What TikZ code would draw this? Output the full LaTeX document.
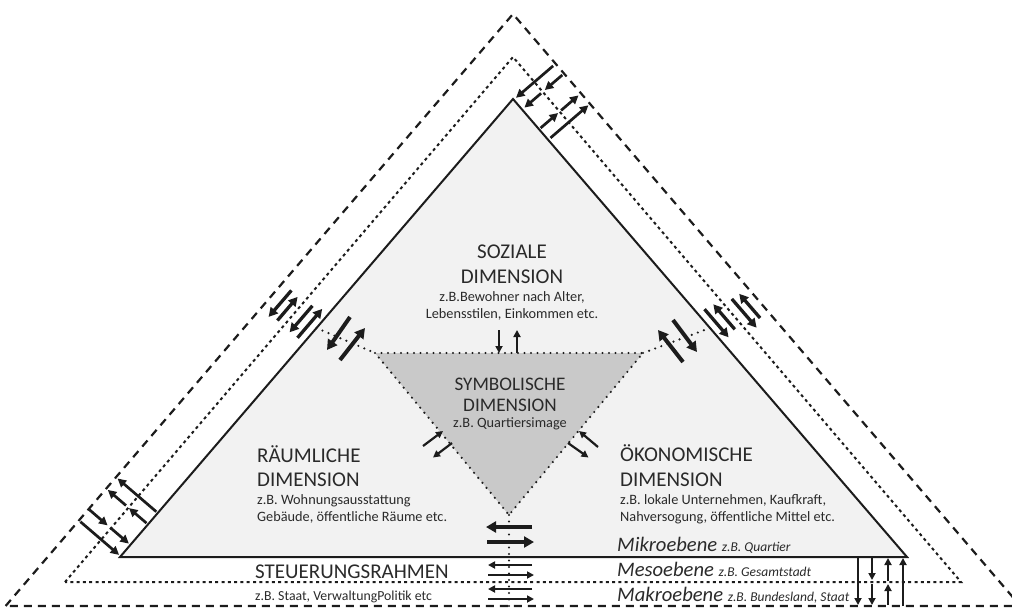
\documentclass[tikz,border=0pt]{standalone}
\usepackage{fontspec}
\setmainfont{Carlito}
\usetikzlibrary{arrows.meta,calc}
\definecolor{ink}{HTML}{1C1C1C}
\definecolor{txt}{HTML}{2A2A2A}
\definecolor{microfill}{HTML}{F2F2F2}
\definecolor{symbfill}{HTML}{C9C9C9}

\begin{document}
\begin{tikzpicture}[x=1pt,y=-1pt,
  solidedge/.style={draw=ink,line width=2pt,line join=miter},
  mesoedge/.style={draw=ink,line width=2pt,dash pattern=on 3pt off 3.3pt},
  makroedge/.style={draw=ink,line width=2.2pt,dash pattern=on 8pt off 6pt},
  dotline/.style={draw=ink,line width=2.4pt,line cap=round,dash pattern=on 0pt off 6.5pt},
  flowbig/.style={draw=ink,line width=4pt,-{Triangle[length=10pt,width=11pt]}},
  flowmid/.style={draw=ink,line width=3.3pt,-{Triangle[length=9pt,width=9.5pt]}},
  flow/.style={draw=ink,line width=2.7pt,-{Triangle[length=8.5pt,width=8.5pt]}},
  flowsmall/.style={draw=ink,line width=2.2pt,-{Triangle[length=7pt,width=7pt]}},
  title/.style={text=txt,font=\fontsize{21}{24}\selectfont,inner sep=0pt},
  symtitle/.style={text=txt,font=\fontsize{19.2}{22}\selectfont,inner sep=0pt},
  note/.style={text=txt,font=\fontsize{14.3}{17}\selectfont,inner sep=0pt},
  level/.style={text=txt,inner sep=0pt,anchor=base west}
]
\useasboundingbox (0,0) rectangle (1012,608);
\clip (0,0) rectangle (1012,608);

% vertices of the three nested levels
\coordinate (mL) at (120,557);
\coordinate (mA) at (513,99);
\coordinate (mR) at (907,557);
\coordinate (eL) at (65,582);
\coordinate (eA) at (513,57);
\coordinate (eR) at (961,582);
\coordinate (kL) at (5.6,606);
\coordinate (kA) at (513,14);
\coordinate (kR) at (1020.4,606);
% symbolic dimension (inverted triangle)
\coordinate (sL) at (375,353);
\coordinate (sR) at (643,353);
\coordinate (sB) at (509,515);
\coordinate (sD) at (509,612);

% micro level: filled triangle
\fill[microfill] (mL) -- (mA) -- (mR) -- cycle;
\fill[symbfill] (sL) -- (sR) -- (sB) -- cycle;

% level boundaries
\draw[makroedge] (kL) -- (kA) -- (kR) -- cycle;
\draw[mesoedge] (eL) -- (eA) -- (eR) -- cycle;
\draw[solidedge] (mL) -- (mA) -- (mR) -- cycle;

% dotted links to the symbolic dimension
\draw[dotline] (sL) -- (sR) -- (sB) -- cycle;
\draw[dotline] ($(mL)!0.5!(mA)$) -- (sL);
\draw[dotline] ($(mR)!0.5!(mA)$) -- (sR);
\draw[dotline] (sB) -- (sD);

% exchange arrows at the apex
\draw[flow] (553.1,65.9) -- (516,97.8);
\draw[flow] (562.3,75) -- (544.8,90);
\draw[flow] (541.1,93.3) -- (524.4,107.6);
\draw[flow] (540.6,128) -- (558.1,113);
\draw[flow] (561.1,110.4) -- (578.5,95.4);
\draw[flow] (550.5,137.9) -- (588.4,105.3);

% exchange arrows on the left side
\draw[flowmid] (291.4,290.4) -- (268.6,316.9);
\draw[flowmid] (277.4,320.5) -- (297.6,296.9);
\draw[flowmid] (312.4,305.8) -- (289.6,332.3);
\draw[flowmid] (297.5,337.8) -- (322.2,308.9);
\draw[flowbig] (350,317) -- (327,350);
\draw[flowbig] (340,360) -- (365,328);

% exchange arrows on the right side
\draw[flowmid] (704.5,309.2) -- (728.6,337.3);
\draw[flowmid] (734.8,329.3) -- (713.3,304.3);
\draw[flowmid] (731.8,298.9) -- (756.6,327.7);
\draw[flowmid] (760.1,318) -- (739.2,293.8);
\draw[flowbig] (673,320) -- (697,352);
\draw[flowbig] (683,362) -- (658,330);

% exchange arrows at the lower left corner
\draw[flow] (80.4,521.7) -- (119.1,554.9);
\draw[flow] (89.4,509.7) -- (107.6,525.4);
\draw[flow] (110.7,528) -- (128.9,543.6);
\draw[flow] (146.5,523.1) -- (129,508.1);
\draw[flow] (126,505.5) -- (107.8,489.9);
\draw[flow] (156.3,511.7) -- (117.6,478.5);

% exchange arrows at the lower right corner
\draw[flowsmall] (858,557) -- (858,605);
\draw[flowsmall] (872,557) -- (872,580);
\draw[flowsmall] (872,584) -- (872,605);
\draw[flowsmall] (888,581) -- (888,558);
\draw[flowsmall] (888,605) -- (888,584);
\draw[flowsmall] (903,606) -- (903,558);

% exchange arrows below the symbolic dimension
\draw[flowbig] (532,527) -- (486,527);
\draw[flowbig] (487,542) -- (534,542);
\draw[flowsmall] (532,565) -- (488,565);
\draw[flowsmall] (488,575) -- (534,575);
\draw[flowsmall] (532,589) -- (488,589);
\draw[flowsmall] (488,599) -- (534,599);

% arrows at the symbolic dimension
\draw[flowsmall] (499,330) -- (499,353);
\draw[flowsmall] (517,353) -- (517,330);
\draw[flowsmall] (423,446) -- (443,431);
\draw[flowsmall] (452,443) -- (433,457.5);
\draw[flowsmall] (598,447) -- (579,431);
\draw[flowsmall] (568,443) -- (588.5,457.5);

% social dimension
\node[title,anchor=base] (soz1) at (512,258) {SOZIALE};
\node[title,anchor=base] (soz2) at (512,283) {DIMENSION};
\node[note,anchor=base] (soz3) at (512,301) {z.B.Bewohner nach Alter,};
\node[note,anchor=base] (soz4) at (512,318) {Lebensstilen, Einkommen etc.};

% symbolic dimension
\node[symtitle,anchor=base] (sym1) at (510,390) {SYMBOLISCHE};
\node[symtitle,anchor=base] (sym2) at (510,411.5) {DIMENSION};
\node[note,anchor=base] (sym3) at (510,427) {z.B. Quartiersimage};

% spatial dimension
\node[title,anchor=base west] (rau1) at (257,462) {RÄUMLICHE};
\node[title,anchor=base west] (rau2) at (257,486) {DIMENSION};
\node[note,anchor=base west] (rau3) at (257,504) {z.B. Wohnungsausstattung};
\node[note,anchor=base west] (rau4) at (257,521) {Gebäude, öffentliche Räume etc.};

% economic dimension
\node[title,anchor=base west] (oek1) at (620,461) {ÖKONOMISCHE};
\node[title,anchor=base west] (oek2) at (620,486) {DIMENSION};
\node[note,anchor=base west] (oek3) at (620,504) {z.B. lokale Unternehmen, Kaufkraft,};
\node[note,anchor=base west] (oek4) at (620,521) {Nahversogung, öffentliche Mittel etc.};

% governance frame
\node[title,anchor=base west] (steu1) at (255,578) {STEUERUNGSRAHMEN};
\node[note,anchor=base west,font=\fontsize{13.8}{16}\selectfont] (steu2) at (255,600) {z.B. Staat, VerwaltungPolitik etc};

% level labels
\node[level] (mikro) at (617,551) {\itshape{\fontsize{20.6}{22}\selectfont Mikroebene\ }{\fontsize{13.5}{16}\selectfont z.B. Quartier}};
\node[level] (meso) at (617,576) {\itshape{\fontsize{20.6}{22}\selectfont Mesoebene\ }{\fontsize{13.5}{16}\selectfont z.B. Gesamtstadt}};
\node[level] (makro) at (617,601) {\itshape{\fontsize{20.6}{22}\selectfont Makroebene\ }{\fontsize{13.5}{16}\selectfont z.B. Bundesland, Staat}};
\end{tikzpicture}
\end{document}
